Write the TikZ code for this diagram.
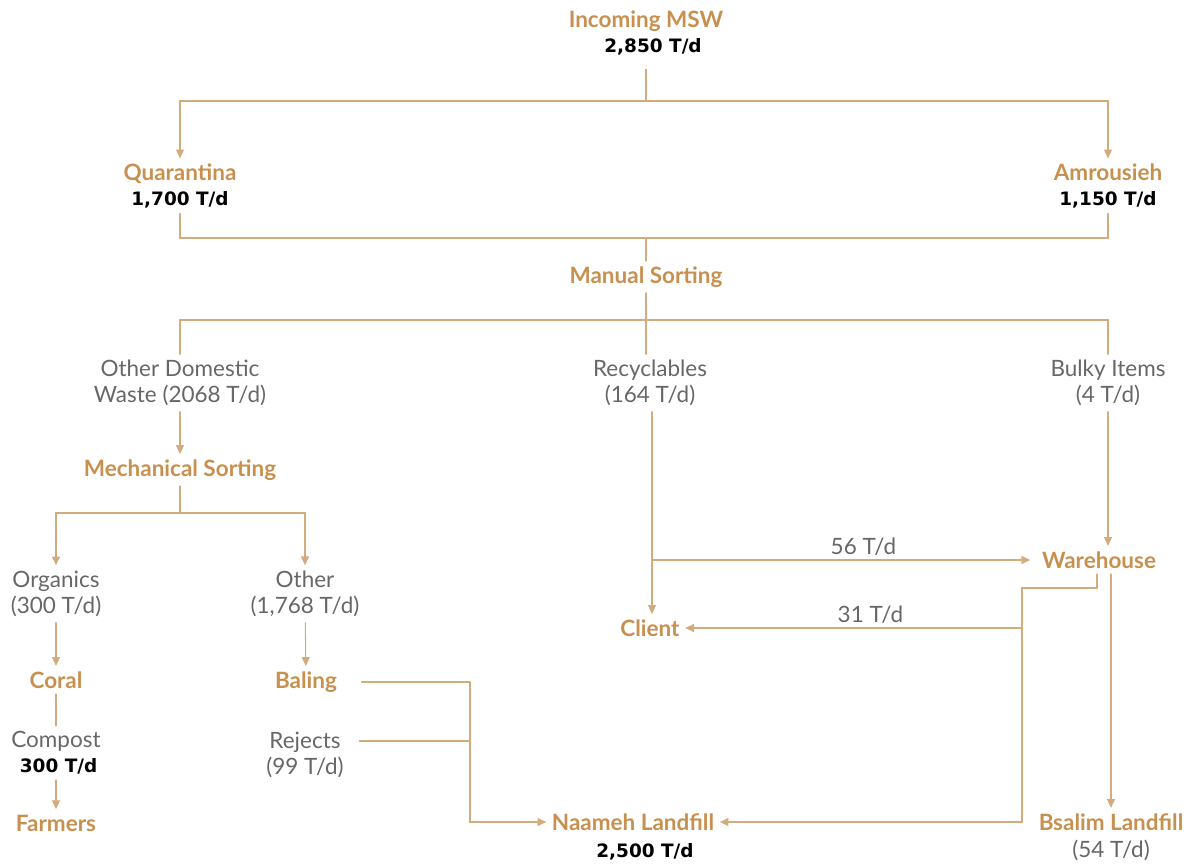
\documentclass[tikz,border=0pt]{standalone}
\usepackage{fontspec}
\setmainfont{Lato}
\newfontfamily\numfont{DejaVu Sans}
\usetikzlibrary{arrows.meta}
\definecolor{tan}{HTML}{C8904F}
\definecolor{wire}{HTML}{D2AC7E}
\definecolor{greytxt}{HTML}{676767}
\newcommand{\tpd}[1]{{\numfont\fontsize{10.5}{12}\selectfont\bfseries\color{black}#1}}
\begin{document}
\begin{tikzpicture}[x=0.02cm, y=-0.02cm,
  every node/.style={font=\fontsize{12.8}{15}\selectfont, align=center, inner sep=3pt},
  lbl/.style={text=tan, font=\fontsize{12.8}{15}\selectfont\bfseries},
  txt/.style={text=greytxt},
  num/.style={text=black, font=\fontsize{10.5}{12}\selectfont\numfont\bfseries},
  flow/.style={draw=wire, line width=0.6pt},
  >={Triangle[length=5pt,width=4.5pt]}, line cap=round]

\useasboundingbox (0,0) rectangle (1193,864);

% ---------- incoming and transfer stations ----------
\node[lbl] (msw) at (646,33) {Incoming MSW\\[-1pt]\hspace*{8pt}\tpd{2,850 T/d}};
\coordinate (j0) at (646,101);
\node[lbl] (quar) at (180,186) {Quarantina\\[-1pt]\tpd{1,700 T/d}};
\node[lbl] (amr) at (1108,186) {Amrousieh\\[-1pt]\tpd{1,150 T/d}};
\draw[flow,shorten <=5pt] (msw) -- (j0);
\draw[flow,->] (j0) -| (quar);
\draw[flow,->] (j0) -| (amr);

% ---------- manual sorting ----------
\coordinate (j1) at (646,238);
\node[lbl] (manual) at (646,277) {Manual Sorting};
\coordinate (j2) at (646,320);
\draw[flow] (quar) |- (j1);
\draw[flow] (amr) |- (j1);
\draw[flow] (j1) -- (manual);
\draw[flow] (manual) -- (j2);

\node[txt] (odw) at (180,383) {Other Domestic\\Waste (2068 T/d)};
\node[txt] (recy) at (650,383) {Recyclables\\(164 T/d)};
\node[txt] (bulky) at (1108,383) {Bulky Items\\(4 T/d)};
\draw[flow] (j2) -| (odw);
\draw[flow] (j2) -- (j2 |- recy.north);
\draw[flow] (j2) -| (bulky);

% ---------- mechanical sorting ----------
\node[lbl] (mech) at (180,470) {Mechanical Sorting};
\coordinate (j3) at (180,513);
\draw[flow,->] (odw) -- (mech);
\draw[flow] (mech) -- (j3);

\node[txt] (org) at (56,594) {Organics\\(300 T/d)};
\node[txt] (oth) at (305,594) {Other\\(1,768 T/d)};
\draw[flow,->] (j3) -| (org);
\draw[flow,->] (j3) -| (oth);

\node[lbl] (coral) at (56,680) {Coral};
\node[txt] (comp) at (56,753) {Compost\\[-1pt]\hspace*{3pt}\tpd{300 T/d}};
\node[lbl] (farm) at (56,823) {Farmers};
\draw[flow,->] (org) -- (coral);
\draw[flow] (coral) -- (comp);
\draw[flow,->] (comp) -- (farm);

\node[lbl] (bal) at (306,682) {Baling};
\node[txt] (rej) at (305,755) {Rejects\\(99 T/d)};
\draw[flow,->] (oth) -- (bal);

% ---------- landfills ----------
\node[lbl] (naam) at (633,822) {Naameh Landfill};
\node[num] (naamn) at (645,852) {2,500 T/d};
\coordinate (j4) at (470,682);
\coordinate (j5) at (470,741);
\draw[flow] (bal.east) ++(19,0) -- (j4);
\draw[flow,->] (j4) |- (naam);
\draw[flow] (rej.east |- j5) ++(10,0) -- (j5);

% ---------- recyclables and bulky items ----------
\node[lbl] (client) at (650,628) {Client};
\node[lbl] (ware) at (1099,560) {Warehouse};
\coordinate (j6) at (652,560);
\coordinate (xb) at (1108,0);
\coordinate (xs) at (1097,0);
\draw[flow,->] (recy.south -| j6) -- (j6 |- client.north);
\draw[flow,->,shorten >=3.5pt] (j6) -- node[txt, above, pos=0.55, inner sep=2pt] {56 T/d} (ware);
\draw[flow,->] (bulky.south -| xb) -- (ware.north -| xb);

\node[lbl] (bsal) at (1111,822) {Bsalim Landfill};
\node[txt] (bsaln) at (1111,850) {(54 T/d)};
\coordinate (j7) at (1022,588);
\coordinate (j8) at (1022,628);
\coordinate (j9) at (1022,822);
\draw[flow,->] (ware.south -| xs) |- (j7) -- (j9) -- (naam);
\draw[flow,->] (j8) -- node[txt, above, pos=0.45, inner sep=2pt] {31 T/d} (client);
\draw[flow,->] (ware.south -| bsal) -- (bsal);

\end{tikzpicture}
\end{document}
